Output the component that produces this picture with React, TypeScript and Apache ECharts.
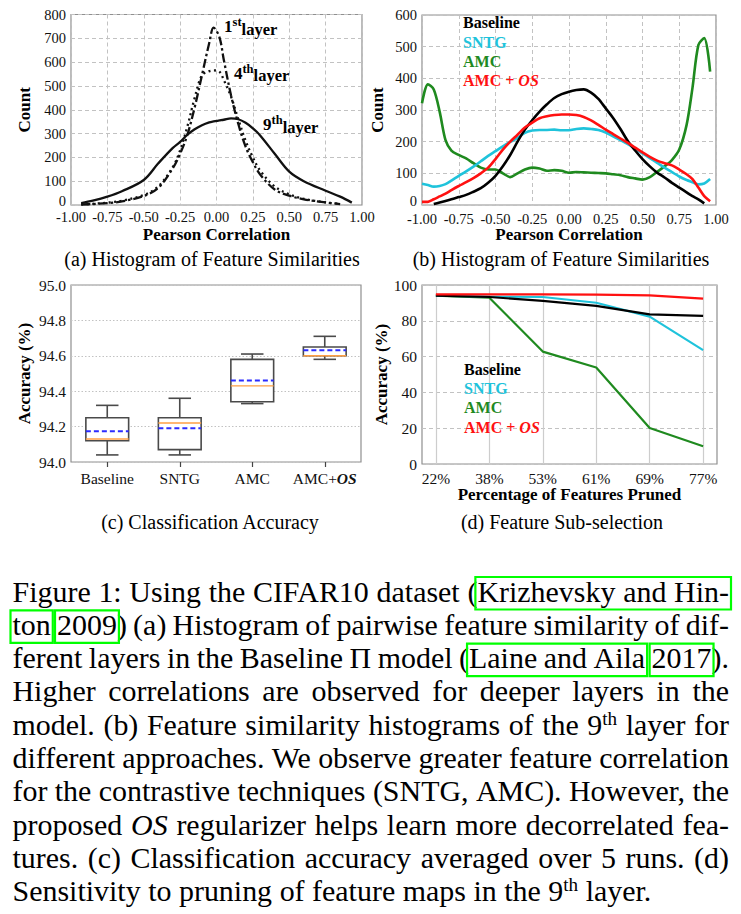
import React, { useEffect, useRef } from "react";
import * as echarts from "echarts";

const SERIF = "'Liberation Serif', 'Times New Roman', Times, serif";

const C_BASE = "#000000";
const C_SNTG = "#1fc3db";
const C_AMC = "#1f8a1f";
const C_OS = "#ff1111";

// (a) pairwise Pearson-correlation histograms for three layers
const corrA = [-0.93, -0.85, -0.75, -0.65, -0.5, -0.4, -0.3, -0.25, -0.2, -0.15, -0.1, -0.05, -0.02, 0.02, 0.05, 0.1, 0.15, 0.2, 0.25, 0.3, 0.4, 0.5, 0.6, 0.75, 0.85, 0.93];
const layer1 = [2, 4, 8, 15, 38, 72, 155, 215, 295, 410, 545, 680, 745, 705, 610, 460, 340, 245, 180, 128, 65, 39, 24, 11, 4, null];
const layer4 = [3, 5, 10, 18, 42, 78, 160, 230, 330, 450, 545, 562, 565, 560, 525, 455, 360, 270, 200, 145, 78, 45, 26, 11, 5, null];
const layer9 = [8, 18, 35, 58, 105, 175, 240, 265, 295, 318, 335, 347, 351, 355, 358, 364, 360, 345, 322, 292, 215, 140, 100, 60, 35, 10];

// (b) 9th-layer histograms for each training approach
const corrB = [-1.0, -0.96, -0.92, -0.88, -0.84, -0.8, -0.75, -0.7, -0.65, -0.6, -0.55, -0.5, -0.45, -0.4, -0.35, -0.3, -0.25, -0.2, -0.15, -0.1, -0.05, 0, 0.05, 0.1, 0.15, 0.2, 0.25, 0.3, 0.35, 0.4, 0.45, 0.5, 0.55, 0.6, 0.65, 0.7, 0.75, 0.8, 0.84, 0.88, 0.92, 0.96];
const histBaseline = [null, null, 3, 8, 13, 18, 25, 32, 42, 53, 70, 92, 122, 158, 200, 238, 268, 295, 318, 338, 350, 358, 363, 365, 355, 335, 305, 275, 240, 202, 172, 145, 122, 102, 87, 70, 55, 40, 28, 18, 5, null];
const histSNTG = [67, 63, 58, 60, 66, 77, 92, 106, 121, 138, 155, 170, 185, 199, 212, 228, 235, 237, 237, 238, 236, 236, 240, 242, 240, 237, 229, 217, 205, 192, 178, 163, 148, 133, 118, 104, 90, 79, 72, 65, 68, 82];
const histAMC = [321, 381, 365, 295, 205, 172, 158, 147, 132, 118, 112, 112, 100, 88, 100, 112, 118, 115, 108, 110, 108, 102, 104, 103, 102, 101, 100, 97, 94, 88, 84, 80, 88, 105, 122, 142, 175, 253, 370, 505, 527, 421];
const histAMCOS = [10, 10, 18, 27, 36, 47, 60, 72, 85, 100, 118, 145, 175, 200, 222, 245, 260, 274, 280, 284, 286, 286, 284, 278, 267, 253, 238, 224, 210, 196, 181, 166, 152, 140, 132, 125, 112, 97, 82, 55, 28, 12];

// (c) classification accuracy over 5 runs
const methods = ["Baseline", "SNTG", "AMC", "AMC+OS"];
const whiskerLow = [94.04, 94.04, 94.33, 94.58];
const quart1 = [94.12, 94.07, 94.34, 94.6];
const medians = [94.13, 94.22, 94.43, 94.6];
const quart3 = [94.25, 94.25, 94.58, 94.65];
const whiskerHigh = [94.32, 94.36, 94.61, 94.71];
const means = [94.174, 94.19, 94.46, 94.632];

// (d) accuracy after pruning feature maps of the 9th layer
const prunedPct = ["22%", "38%", "53%", "61%", "69%", "77%"];
const pruneBaseline = [94.1, 93.3, 91.1, 88.3, 83.6, 82.7];
const pruneSNTG = [94.1, 93.5, 93.3, 90.1, 82.3, 63.6];
const pruneAMC = [94.1, 92.9, 62.8, 53.9, 20.1, 9.9];
const pruneAMCOS = [94.8, 94.8, 94.8, 94.6, 94.2, 92.4];

const seriesNames = ["Baseline", "SNTG", "AMC", "AMC + OS"];
const seriesColors = [C_BASE, C_SNTG, C_AMC, C_OS];

const subCaptions = [
  "(a) Histogram of Feature Similarities",
  "(b) Histogram of Feature Similarities",
  "(c) Classification Accuracy",
  "(d) Feature Sub-selection",
];

// caption markup: {..} linked citation, _.._ italic, ^..^ superscript
const captionLines = [
  "Figure 1: Using the CIFAR10 dataset ({Krizhevsky and Hin-}",
  "{ton} {2009}) (a) Histogram of pairwise feature similarity of dif-",
  "ferent layers in the Baseline \u03a0 model ({Laine and Aila} {2017}).",
  "Higher correlations are observed for deeper layers in the",
  "model. (b) Feature similarity histograms of the 9^th^ layer for",
  "different approaches. We observe greater feature correlation",
  "for the contrastive techniques (SNTG, AMC). However, the",
  "proposed _OS_ regularizer helps learn more decorrelated fea-",
  "tures. (c) Classification accuracy averaged over 5 runs. (d)",
  "Sensitivity to pruning of feature maps in the 9^th^ layer.",
];

const zip = (xs: number[], ys: (number | null)[]) =>
  xs.map((x, i) => [x, ys[i]]).filter((p) => p[1] !== null);

const pruneIdx = prunedPct.map((_, i) => i);

const titleStyle = { fontFamily: SERIF, fontWeight: "bold", fontSize: 17, color: "#000" };

function corrXAxis(gridIndex: number, margin: number) {
  return {
    type: "value",
    gridIndex,
    min: -1,
    max: 1,
    interval: 0.25,
    axisLine: { show: false },
    axisTick: { show: false },
    axisLabel: {
      fontFamily: SERIF,
      fontSize: 14.5,
      color: "#111",
      margin,
      showMinLabel: true,
      showMaxLabel: true,
      formatter: (v: number) => v.toFixed(2),
    },
    splitLine: { show: true, lineStyle: { color: "#c2c2c2", width: 1, type: [4, 3] } },
    name: "Pearson Correlation",
    nameLocation: "middle",
    nameGap: 21,
    nameMoveOverlap: false,
    nameTextStyle: titleStyle,
  };
}

function valueYAxis(gridIndex: number, min: number, max: number, interval: number, name: string, nameGap: number, fontSize: number, dash: number[], digits: number, liftZero: boolean) {
  return {
    type: "value",
    gridIndex,
    min,
    max,
    interval,
    axisLine: { show: false },
    axisTick: { show: false },
    axisLabel: {
      fontFamily: SERIF,
      fontSize,
      color: "#111",
      margin: 5,
      // the zero label sits a little higher so it clears the x tick labels
      formatter: (v: number) => (liftZero && v === 0 ? "{z|0}" : v.toFixed(digits)),
      rich: { z: { fontFamily: SERIF, fontSize, color: "#111", padding: [0, 0, 8, 0] } },
    },
    splitLine: { show: true, lineStyle: { color: "#c2c2c2", width: 1, type: dash } },
    name,
    nameLocation: "middle",
    nameRotate: 90,
    nameGap,
    nameMoveOverlap: false,
    nameTextStyle: titleStyle,
  };
}

const annRich = {
  n: { fontFamily: SERIF, fontSize: 17, fontWeight: "bold", color: "#000", verticalAlign: "middle", lineHeight: 22 },
  s: { fontFamily: SERIF, fontSize: 12.5, fontWeight: "bold", color: "#000", verticalAlign: "top", lineHeight: 22 },
  l: { fontFamily: SERIF, fontSize: 16.5, fontWeight: "bold", color: "#000", verticalAlign: "bottom", lineHeight: 22 },
};

function layerTag(num: string, suffix: string, x: number, y: number) {
  return {
    symbol: "circle",
    symbolSize: 0,
    silent: true,
    itemStyle: { color: "transparent" },
    data: [
      {
        coord: [x, y],
        label: {
          show: true,
          position: "right",
          distance: 0,
          formatter: `{n|${num}}{s|${suffix}}{l|layer}`,
          rich: annRich,
        },
      },
    ],
  };
}

function legendFor(left: number, top: number) {
  return {
    left,
    top,
    orient: "vertical",
    icon: "none",
    itemWidth: 0,
    itemHeight: 8,
    itemGap: 0,
    padding: 0,
    selectedMode: false,
    data: seriesNames.map((n, i) => ({ name: n, textStyle: { color: seriesColors[i] } })),
    formatter: (name: string) => (name === "AMC + OS" ? "AMC + {os|OS}" : name),
    textStyle: {
      fontFamily: SERIF,
      fontSize: 16,
      fontWeight: "bold",
      lineHeight: 19.3,
      rich: {
        os: { fontFamily: SERIF, fontSize: 16, fontWeight: "bold", fontStyle: "italic", color: C_OS, lineHeight: 19.3 },
      },
    },
  };
}

const CAP_SIZE = 29;
const SUP_SIZE = 18.5;
const CAP_SX = 1.033;
const CAP_LEFT = 12.5;
const CAP_RIGHT = 729;
const CAP_BASE0 = 601.5;
const CAP_LEAD = 33.3;
const CENTRAL = 0.3375;

type Run = { text: string; italic: boolean; sup: boolean; box: number; w: number; x: number };

function buildCaption(): any[] {
  const els: any[] = [];
  const ctx = document.createElement("canvas").getContext("2d")!;
  const measure = (t: string, italic: boolean, size: number) => {
    ctx.font = `${italic ? "italic " : ""}${size}px ${SERIF}`;
    return ctx.measureText(t).width * CAP_SX;
  };
  const spaceW = measure(" ", false, CAP_SIZE);
  let boxCounter = 0;

  captionLines.forEach((line, li) => {
    const base = CAP_BASE0 + li * CAP_LEAD;
    let italic = false;
    let sup = false;
    let box = -1;
    const words = line.split(" ").map((word) => {
      const runs: Run[] = [];
      let cur: Run | null = null;
      for (const ch of word) {
        if (ch === "_") { italic = !italic; cur = null; continue; }
        if (ch === "^") { sup = !sup; cur = null; continue; }
        if (ch === "{") { box = boxCounter++; cur = null; continue; }
        if (ch === "}") { box = -1; cur = null; continue; }
        if (!cur) { cur = { text: "", italic, sup, box, w: 0, x: 0 }; runs.push(cur); }
        cur.text += ch;
      }
      runs.forEach((r) => { r.w = measure(r.text, r.italic, r.sup ? SUP_SIZE : CAP_SIZE); });
      return { runs, w: runs.reduce((s, r) => s + r.w, 0) };
    });
    const total = words.reduce((s, w) => s + w.w, 0);
    const last = li === captionLines.length - 1;
    const gap = last ? spaceW : (CAP_RIGHT - CAP_LEFT - total) / (words.length - 1);

    let x = CAP_LEFT;
    const boxes: Record<number, [number, number]> = {};
    words.forEach((wd) => {
      wd.runs.forEach((r) => {
        r.x = x;
        const size = r.sup ? SUP_SIZE : CAP_SIZE;
        const yBase = r.sup ? base - 10 : base;
        els.push({
          type: "text",
          x,
          y: yBase - CENTRAL * size,
          scaleX: CAP_SX,
          silent: true,
          style: {
            text: r.text,
            x: 0,
            y: 0,
            fill: "#000",
            fontFamily: SERIF,
            fontSize: size,
            fontStyle: r.italic ? "italic" : "normal",
            align: "left",
            textAlign: "left",
            verticalAlign: "middle",
            textVerticalAlign: "middle",
          },
        });
        if (r.box >= 0) {
          if (!boxes[r.box]) boxes[r.box] = [x, x + r.w];
          else boxes[r.box][1] = x + r.w;
        }
        x += r.w;
      });
      x += gap;
    });
    Object.values(boxes).forEach(([x0, x1]) => {
      els.push({
        type: "rect",
        silent: true,
        shape: { x: x0 - 2, y: base - 24.5, width: x1 - x0 + 4, height: 32.5 },
        style: { fill: "none", stroke: "#00ff00", lineWidth: 2.2 },
      });
    });
  });
  return els;
}

function subCaptionEls(): any[] {
  const pos = [
    [212, 259],
    [561, 259],
    [210, 522],
    [562, 522],
  ];
  return subCaptions.map((t, i) => ({
    type: "text",
    x: pos[i][0],
    y: pos[i][1],
    silent: true,
    style: {
      text: t,
      x: 0,
      y: 0,
      fill: "#000",
      fontFamily: SERIF,
      fontSize: 20,
      align: "center",
      textAlign: "center",
      verticalAlign: "middle",
      textVerticalAlign: "middle",
    },
  }));
}

function boxRender(params: any, api: any) {
  const i = api.value(0);
  const lo = api.coord([i, api.value(1)]);
  const q1 = api.coord([i, api.value(2)]);
  const md = api.coord([i, api.value(3)]);
  const q3 = api.coord([i, api.value(4)]);
  const hi = api.coord([i, api.value(5)]);
  const mn = api.coord([i, api.value(6)]);
  const band = api.size([1, 0])[0];
  const cx = lo[0];
  const bw = band * 0.59;
  const cw = band * 0.31;
  const stroke = "#4a4a4a";
  const seg = (x1: number, y1: number, x2: number, y2: number, style: any) => ({
    type: "line",
    shape: { x1, y1, x2, y2 },
    style,
  });
  const ws = { stroke, lineWidth: 1.6 };
  return {
    type: "group",
    children: [
      seg(cx, hi[1], cx, q3[1], ws),
      seg(cx, q1[1], cx, lo[1], ws),
      seg(cx - cw / 2, hi[1], cx + cw / 2, hi[1], ws),
      seg(cx - cw / 2, lo[1], cx + cw / 2, lo[1], ws),
      {
        type: "rect",
        shape: { x: cx - bw / 2, y: q3[1], width: bw, height: q1[1] - q3[1] },
        style: { fill: "#fff", stroke, lineWidth: 1.6 },
      },
      seg(cx - bw / 2, md[1], cx + bw / 2, md[1], { stroke: "#ff9f45", lineWidth: 1.4 }),
      seg(cx - bw / 2, mn[1], cx + bw / 2, mn[1], { stroke: "#2b2bff", lineWidth: 2, lineDash: [5, 3] }),
    ],
  };
}

function buildOption(): any {
  const gridBase = { show: true, borderColor: "#8f8f8f", borderWidth: 1.2, backgroundColor: "#fff", outerBoundsMode: "none" };
  const histLine = (name: string, xs: number[], ys: (number | null)[], color: string) => ({
    type: "line",
    name,
    xAxisIndex: 1,
    yAxisIndex: 1,
    data: zip(xs, ys),
    showSymbol: false,
    symbol: "none",
    smooth: 0.3,
    color,
    lineStyle: { color, width: 2.6 },
  });
  const pruneLine = (name: string, ys: number[], color: string) => ({
    type: "line",
    name,
    xAxisIndex: 3,
    yAxisIndex: 3,
    data: zip(pruneIdx, ys),
    showSymbol: false,
    symbol: "none",
    color,
    lineStyle: { color, width: 2.2 },
  });
  const layerLine = (ys: (number | null)[], dash: any, tag: any) => ({
    type: "line",
    xAxisIndex: 0,
    yAxisIndex: 0,
    data: zip(corrA, ys),
    showSymbol: false,
    symbol: "none",
    smooth: 0.35,
    color: "#111",
    lineStyle: { color: "#111", width: 2.3, type: dash },
    markPoint: tag,
  });

  return {
    animation: false,
    backgroundColor: "#fff",
    textStyle: { fontFamily: SERIF },
    grid: [
      { ...gridBase, left: 71, top: 14.5, width: 291, height: 190.5 },
      { ...gridBase, left: 422, top: 15, width: 294, height: 190 },
      { ...gridBase, left: 71, top: 285, width: 290, height: 177 },
      { ...gridBase, left: 422, top: 285, width: 295, height: 179 },
    ],
    xAxis: [
      corrXAxis(0, 4),
      corrXAxis(1, 6),
      {
        type: "category",
        gridIndex: 2,
        data: methods,
        boundaryGap: true,
        axisLine: { show: false },
        axisTick: { show: true, alignWithLabel: true, interval: 0, length: 5, lineStyle: { color: "#444", width: 1.2 } },
        axisLabel: {
          interval: 0,
          fontFamily: SERIF,
          fontSize: 15.5,
          color: "#111",
          margin: 8,
          formatter: (v: string) => (v === "AMC+OS" ? "AMC+{os|OS}" : v),
          rich: { os: { fontFamily: SERIF, fontSize: 15.5, fontWeight: "bold", fontStyle: "italic", color: "#111" } },
        },
        splitLine: { show: false },
      },
      {
        type: "value",
        gridIndex: 3,
        min: -0.26,
        max: 5.26,
        axisLine: { show: false },
        axisTick: { show: false, customValues: pruneIdx },
        axisLabel: {
          customValues: pruneIdx,
          fontFamily: SERIF,
          fontSize: 15.5,
          color: "#111",
          margin: 6,
          formatter: (v: number) => prunedPct[Math.round(v)],
        },
        splitLine: { show: true, lineStyle: { color: "#cdcdcd", width: 1.2, type: "solid" } },
        name: "Percentage of Features Pruned",
        nameLocation: "middle",
        nameGap: 22,
        nameMoveOverlap: false,
        nameTextStyle: titleStyle,
      },
    ],
    yAxis: [
      valueYAxis(0, 0, 800, 100, "Count", 38, 14.5, [4, 3], 0, true),
      valueYAxis(1, 0, 600, 100, "Count", 36, 14.5, [4, 3], 0, true),
      valueYAxis(2, 94, 95, 0.2, "Accuracy (%)", 38, 15.5, [1.5, 2], 1, false),
      valueYAxis(3, 0, 100, 20, "Accuracy (%)", 32, 15.5, [4, 3], 0, false),
    ],
    legend: [legendFor(458, 13.3), legendFor(459, 359.6)],
    series: [
      layerLine(layer9, "solid", layerTag("9", "th", 0.32, 336)),
      layerLine(layer4, [2, 3.5], layerTag("4", "th", 0.12, 554)),
      layerLine(layer1, [9, 3, 2.5, 3], layerTag("1", "st", 0.052, 748)),

      histLine("AMC", corrB, histAMC, C_AMC),
      histLine("SNTG", corrB, histSNTG, C_SNTG),
      histLine("Baseline", corrB, histBaseline, C_BASE),
      histLine("AMC + OS", corrB, histAMCOS, C_OS),

      {
        type: "custom",
        xAxisIndex: 2,
        yAxisIndex: 2,
        renderItem: boxRender,
        encode: { x: 0, y: [1, 2, 3, 4, 5, 6] },
        data: methods.map((_, i) => [i, whiskerLow[i], quart1[i], medians[i], quart3[i], whiskerHigh[i], means[i]]),
      },

      pruneLine("AMC", pruneAMC, C_AMC),
      pruneLine("SNTG", pruneSNTG, C_SNTG),
      pruneLine("Baseline", pruneBaseline, C_BASE),
      pruneLine("AMC + OS", pruneAMCOS, C_OS),
    ],
    graphic: { elements: [...subCaptionEls(), ...buildCaption()] },
  };
}

export default function App() {
  const ref = useRef<HTMLDivElement>(null);
  useEffect(() => {
    document.body.style.margin = "0";
    const chart = echarts.init(ref.current!, null, { renderer: "svg" });
    chart.setOption(buildOption());
    return () => chart.dispose();
  }, []);
  return <div ref={ref} style={{ width: 741, height: 914, background: "#fff" }} />;
}
